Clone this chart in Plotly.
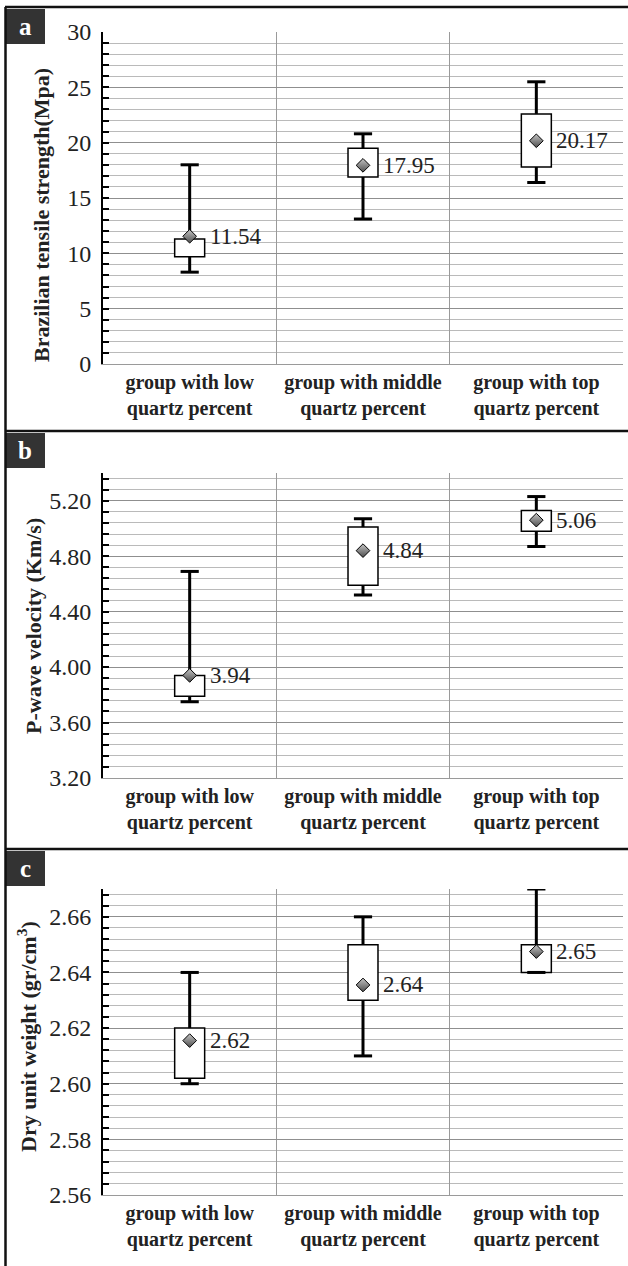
import plotly.graph_objects as go

# ---------------- data ----------------
cat_keys = ["low", "middle", "top"]
cat_labels = ["group with low<br>quartz percent",
              "group with middle<br>quartz percent",
              "group with top<br>quartz percent"]

# (a) Brazilian tensile strength (MPa)
bts_low = [8.3, 13.1, 16.4]
bts_q1 = [9.7, 16.9, 17.8]
bts_q3 = [11.3, 19.5, 22.6]
bts_high = [18.0, 20.8, 25.5]
bts_mean = [11.54, 17.95, 20.17]

# (b) P-wave velocity (km/s)
pwv_low = [3.75, 4.52, 4.87]
pwv_q1 = [3.79, 4.59, 4.98]
pwv_q3 = [3.94, 5.01, 5.13]
pwv_high = [4.69, 5.07, 5.23]
pwv_mean = [3.94, 4.84, 5.06]

# (c) Dry unit weight (gr/cm3)
duw_low = [2.600, 2.610, 2.640]
duw_q1 = [2.602, 2.630, 2.640]
duw_q3 = [2.620, 2.650, 2.650]
duw_high = [2.640, 2.660, 2.670]
duw_mean = [2.6155, 2.6355, 2.6475]

W, H = 628, 1266
SERIF = "Liberation Serif, Times New Roman, DejaVu Serif, serif"


def px(x):
    return x / W


def py(y):
    return 1 - y / H


panels = [
    dict(letter="a", low=bts_low, q1=bts_q1, q3=bts_q3, high=bts_high, mean=bts_mean,
         yrange=[0, 30], dtick=5, minor=1, fmt="d",
         ytop=32, ybot=364, frame=7, title="Brazilian tensile strength(Mpa)",
         title_xy=(42, 215)),
    dict(letter="b", low=pwv_low, q1=pwv_q1, q3=pwv_q3, high=pwv_high, mean=pwv_mean,
         yrange=[3.2, 5.4], dtick=0.4, minor=0.08, fmt=".2f",
         ytop=473, ybot=778, frame=431, title="P-wave velocity (Km/s)",
         title_xy=(33, 626)),
    dict(letter="c", low=duw_low, q1=duw_q1, q3=duw_q3, high=duw_high, mean=duw_mean,
         yrange=[2.56, 2.67], dtick=0.02, minor=0.004, fmt=".2f",
         ytop=889, ybot=1195, frame=849, title="Dry unit weight (gr/cm<sup>3</sup>)",
         title_xy=(27, 1037)),
]

fig = go.Figure()
annotations = []
shapes = []

for i, p in enumerate(panels):
    n = "" if i == 0 else str(i + 1)
    xa, ya = "x" + n, "y" + n
    # box (q1..q3)
    fig.add_trace(go.Bar(
        x=cat_keys, y=[b - a for a, b in zip(p["q1"], p["q3"])], base=p["q1"],
        width=0.173, marker=dict(color="white", line=dict(color="black", width=1.5)),
        xaxis=xa, yaxis=ya, showlegend=False, hoverinfo="skip"))
    # whiskers
    wx, wy = [], []
    for k, c in enumerate(cat_keys):
        wx += [c, c, None, c, c, None]
        wy += [p["q3"][k], p["high"][k], None, p["low"][k], p["q1"][k], None]
    fig.add_trace(go.Scatter(x=wx, y=wy, mode="lines", line=dict(color="black", width=3),
                             xaxis=xa, yaxis=ya, showlegend=False, hoverinfo="skip"))
    # caps
    fig.add_trace(go.Scatter(
        x=cat_keys + cat_keys, y=p["high"] + p["low"], mode="markers",
        marker=dict(symbol="line-ew", size=13, line=dict(color="black", width=3)),
        xaxis=xa, yaxis=ya, showlegend=False, hoverinfo="skip"))
    # mean diamonds
    fig.add_trace(go.Scatter(
        x=cat_keys, y=p["mean"], mode="markers",
        marker=dict(symbol="diamond", size=10.5, color="#c4c4c4",
                    gradient=dict(type="vertical", color="#4d4d4d"),
                    line=dict(color="black", width=1)),
        xaxis=xa, yaxis=ya, showlegend=False, hoverinfo="skip"))
    for k, c in enumerate(cat_keys):
        annotations.append(dict(
            x=c, y=p["mean"][k], xref=xa, yref=ya, text=f"{p['mean'][k]:.2f}",
            showarrow=False, xanchor="left", yanchor="middle", xshift=18,
            font=dict(family=SERIF, size=23, color="#222")))

    dom_y = [py(p["ybot"]), py(p["ytop"])]
    fig.update_layout(**{
        "xaxis" + n: dict(
            domain=[px(103), px(623)], anchor=ya, type="category",
            categoryorder="array", categoryarray=cat_keys,
            range=[-0.5, 2.5], tickson="boundaries", ticks="",
            tickvals=cat_keys, ticktext=[f"<b>{t}</b>" for t in cat_labels],
            showgrid=True, gridcolor="#9a9a9a", gridwidth=1,
            showline=True, linecolor="#9a9a9a", linewidth=1,
            tickfont=dict(family=SERIF, size=20, color="#222"),
            zeroline=False, fixedrange=True, automargin=False),
        "yaxis" + n: dict(
            domain=dom_y, anchor=xa, range=p["yrange"], dtick=p["dtick"],
            tick0=p["yrange"][0], tickformat=p["fmt"],
            showgrid=True, gridcolor="#8f8f8f", gridwidth=1,
            minor=dict(dtick=p["minor"], tick0=p["yrange"][0], showgrid=True,
                       gridcolor="#bababa", gridwidth=1, ticks="inside",
                       ticklen=6, tickwidth=2, tickcolor="black"),
            ticks="inside", ticklen=6, tickwidth=2, tickcolor="black",
            showline=True, linecolor="black", linewidth=2,
            ticklabelstandoff=5,
            tickfont=dict(family=SERIF, size=24, color="#222"),
            zeroline=False, fixedrange=True, automargin=False),
    })

    # y-title
    tx, ty = p["title_xy"]
    annotations.append(dict(
        x=px(tx), y=py(ty), xref="paper", yref="paper", text=f"<b>{p['title']}</b>",
        textangle=-90, showarrow=False, xanchor="center", yanchor="middle",
        font=dict(family=SERIF, size=22, color="#222")))

    # panel frame (top line) and label box
    shapes.append(dict(type="line", xref="paper", yref="paper",
                       x0=px(5), x1=1, y0=py(p["frame"]), y1=py(p["frame"]),
                       line=dict(color="#111", width=2.5)))
    shapes.append(dict(type="rect", xref="paper", yref="paper",
                       x0=px(5), x1=px(45), y0=py(p["frame"] + 37), y1=py(p["frame"] + 2),
                       fillcolor="#333333", line=dict(width=0)))
    annotations.append(dict(
        x=px(25), y=py(p["frame"] + 19.5), xref="paper", yref="paper",
        text=f"<b>{p['letter']}</b>",
        showarrow=False, xanchor="center", yanchor="middle",
        font=dict(family=SERIF, size=25, color="white")))

shapes.append(dict(type="line", xref="paper", yref="paper",
                   x0=px(5.5), x1=px(5.5), y0=0, y1=py(7),
                   line=dict(color="#111", width=2.5)))

fig.update_layout(
    width=W, height=H, margin=dict(l=0, r=0, t=0, b=0, pad=0, autoexpand=False),
    paper_bgcolor="white", plot_bgcolor="white",
    showlegend=False, annotations=annotations, shapes=shapes,
    bargap=0,
)

fig.write_html(
    "out.html",
    config={"displayModeBar": False, "staticPlot": True},
    post_script="document.body.style.margin='0';document.body.style.padding='0';"
                "document.body.style.overflow='hidden';",
)
